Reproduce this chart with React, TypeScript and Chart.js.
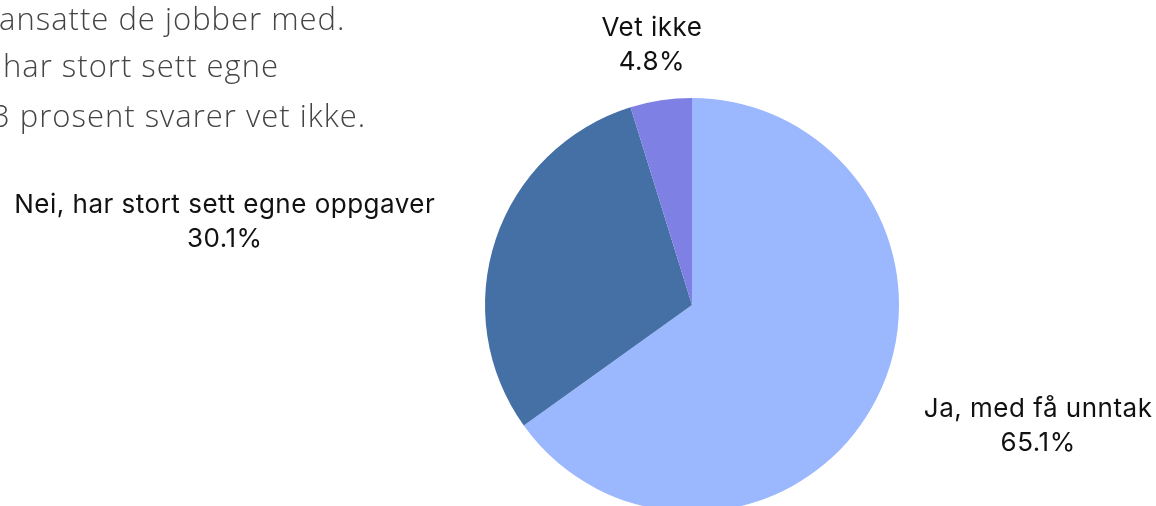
import React, { useEffect, useRef } from "react";
import { Chart, registerables } from "chart.js";

Chart.register(...registerables);

const categories = ["Ja, med få unntak", "Nei, har stort sett egne oppgaver", "Vet ikke"];
const values = [65.1, 30.1, 4.8];
const sliceColors = ["#9BB7FD", "#4570A6", "#7E80E3"];
const backgroundLines = [
  "ansatte de jobber med.",
  "har stort sett egne",
  "3 prosent svarer vet ikke.",
];

// label placement relative to the slice's mid point on the outer rim
const labelOffsets = [
  { dx: 162, dy: 17 },
  { dx: -271, dy: -26 },
  { dx: -9, dy: -64 },
];

const outsideLabels = {
  id: "outsideLabels",
  afterDatasetsDraw(chart: any) {
    const ctx = chart.ctx;
    const meta = chart.getDatasetMeta(0);
    ctx.save();
    ctx.fillStyle = "#111111";
    ctx.font = "26px Inter";
    (ctx as any).letterSpacing = "0.5px";
    ctx.textAlign = "center";
    ctx.textBaseline = "alphabetic";
    meta.data.forEach((arc: any, i: number) => {
      const p = arc.getProps(["x", "y", "startAngle", "endAngle", "outerRadius"], true);
      const mid = (p.startAngle + p.endAngle) / 2;
      const ax = p.x + Math.cos(mid) * p.outerRadius + labelOffsets[i].dx;
      const ay = p.y + Math.sin(mid) * p.outerRadius + labelOffsets[i].dy;
      ctx.fillText(String(chart.data.labels[i]), ax, ay);
      ctx.fillText(values[i].toFixed(1) + "%", ax, ay + 34);
    });
    ctx.restore();
  },
};

export default function App() {
  const ref = useRef<HTMLCanvasElement | null>(null);
  useEffect(() => {
    document.body.style.margin = "0";
    const chart = new Chart(ref.current as HTMLCanvasElement, {
      type: "pie",
      data: {
        labels: categories,
        datasets: [
          {
            data: values,
            backgroundColor: sliceColors,
            borderWidth: 0,
            hoverOffset: 0,
            offset: 0,
          },
        ],
      },
      options: {
        responsive: false,
        animation: false,
        layout: { padding: { left: 485, right: 257, top: 98, bottom: 108 } },
        plugins: { legend: { display: false }, tooltip: { enabled: false } },
        events: [],
      },
      plugins: [outsideLabels],
    });
    return () => chart.destroy();
  }, []);

  const textStyle: React.CSSProperties = {
    position: "absolute",
    fontFamily: "'Open Sans', sans-serif",
    fontWeight: 300,
    fontSize: 31,
    letterSpacing: "1px",
    color: "#444444",
    lineHeight: "40px",
    whiteSpace: "nowrap",
  };

  return (
    <div
      style={{
        position: "absolute",
        left: 0,
        top: 0,
        width: 1156,
        height: 506,
        overflow: "hidden",
        background: "#ffffff",
      }}
    >
      <canvas ref={ref} width={1156} height={620} style={{ position: "absolute", left: 0, top: 0 }} />
      <div style={{ ...textStyle, left: -1, top: -2 }}>{backgroundLines[0]}</div>
      <div style={{ ...textStyle, left: 3, top: 45 }}>{backgroundLines[1]}</div>
      <div style={{ ...textStyle, left: -8, top: 95 }}>{backgroundLines[2]}</div>
    </div>
  );
}
